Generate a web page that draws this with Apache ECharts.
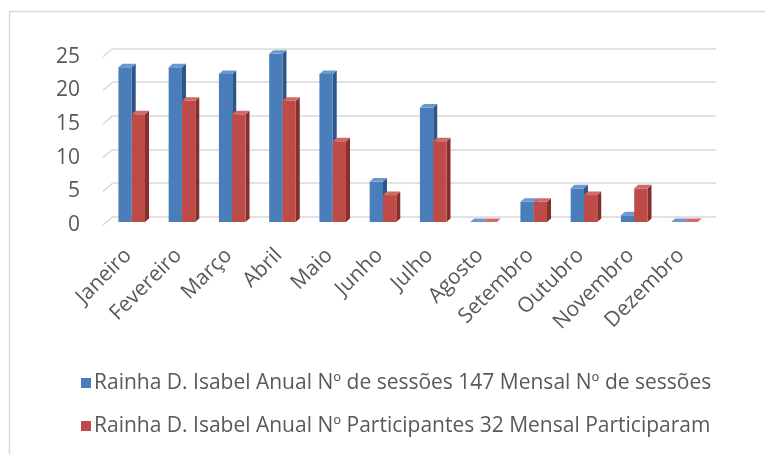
<!DOCTYPE html>
<html>
<head>
<meta charset="utf-8">
<script src="https://cdn.jsdelivr.net/npm/echarts@6/dist/echarts.min.js"></script>
<style>
  html, body { margin: 0; padding: 0; background: #ffffff; }
  #chart { width: 765px; height: 454px; }
</style>
</head>
<body>
<div id="chart"></div>
<script>
// Months on the category axis
const months = ['Janeiro', 'Fevereiro', 'Março', 'Abril', 'Maio', 'Junho',
  'Julho', 'Agosto', 'Setembro', 'Outubro', 'Novembro', 'Dezembro'];

// Monthly values per series
const sessoes = [23, 23, 22, 25, 22, 6, 17, 0, 3, 5, 1, 0];
const participantes = [16, 18, 16, 18, 12, 4, 12, 0, 3, 4, 5, 0];

// Series names shown in the legend
const nomeSessoes = 'Rainha D. Isabel Anual Nº de sessões 147 Mensal Nº de sessões';
const nomeParticipantes = 'Rainha D. Isabel Anual Nº Participantes 32 Mensal Participaram';

// Value axis ticks
const yTicks = [0, 5, 10, 15, 20, 25];

const FONT = '"Open Sans"';
const FONT_SIZE = 21;
const TEXT = '#595959';
const GRID = '#d9d9d9';

// Depth of the floor (front edge to back wall) and of each bar
const FLOOR_DX = 10, FLOOR_DY = 8.4;
const BAR_DX = 4, BAR_DY = 3.5, BAR_W = 13.3;

const palette = [
  { front: '#4a7ebb', side: '#2c5689', top: '#6b98d1' },
  { front: '#be4b48', side: '#86302d', top: '#cf6a67' }
];

function barRenderer(seriesIdx) {
  const c = palette[seriesIdx];
  return function (params, api) {
    const i = api.value(0);
    const v = api.value(1);
    const base = api.coord([i, 0]);
    const tip = api.coord([i, v]);
    const cx = base[0];
    const x0 = seriesIdx === 0 ? cx - BAR_W : cx;
    const x1 = x0 + BAR_W;
    const yb = base[1], yt = tip[1];
    return {
      type: 'group',
      children: [
        { type: 'polygon', shape: { points: [[x1, yt], [x1 + BAR_DX, yt - BAR_DY], [x1 + BAR_DX, yb - BAR_DY], [x1, yb]] },
          style: { fill: c.side } },
        { type: 'rect', shape: { x: x0, y: yt, width: BAR_W, height: yb - yt },
          style: { fill: c.front } },
        { type: 'polygon', shape: { points: [[x0, yt], [x1, yt], [x1 + BAR_DX, yt - BAR_DY], [x0 + BAR_DX, yt - BAR_DY]] },
          style: { fill: c.top } }
      ]
    };
  };
}

// Short slanted lines joining each front tick to its gridline on the back wall
function floorEdge(params, api) {
  const p = api.coord([0, api.value(1)]);
  const x = params.coordSys.x;
  return {
    type: 'line',
    shape: { x1: x, y1: p[1], x2: x + FLOOR_DX, y2: p[1] - FLOOR_DY },
    style: { stroke: GRID, lineWidth: 1.5 }
  };
}

const chart = echarts.init(document.getElementById('chart'), null, { renderer: 'canvas' });

chart.setOption({
  backgroundColor: '#ffffff',
  animation: false,
  textStyle: { fontFamily: FONT, color: TEXT },
  graphic: [{
    type: 'rect', silent: true, z: -10,
    shape: { x: 9.5, y: 11.5, width: 800, height: 500 },
    style: { fill: 'none', stroke: '#d9d9d9', lineWidth: 1.5 }
  }],
  grid: [
    // back wall
    { left: 113, right: 49, top: 48.3, bottom: 237.3 },
    // front edge (labels)
    { left: 103, right: 59, top: 56.7, bottom: 229 },
    // plane of the bars
    { left: 106.6, right: 55.4, top: 53.7, bottom: 232 }
  ],
  xAxis: [
    { gridIndex: 0, type: 'category', data: months, show: false },
    { gridIndex: 1, type: 'category', data: months,
      axisLine: { show: false }, axisTick: { show: false },
      axisLabel: { rotate: 45, interval: 0, margin: 27, fontSize: FONT_SIZE, color: TEXT, fontFamily: FONT } },
    { gridIndex: 2, type: 'category', data: months, show: false }
  ],
  yAxis: [
    { gridIndex: 0, type: 'value', min: 0, max: 25, interval: 5,
      axisLine: { show: false }, axisTick: { show: false }, axisLabel: { show: false },
      splitLine: { lineStyle: { color: GRID, width: 1.5 } } },
    { gridIndex: 1, type: 'value', min: 0, max: 25, interval: 5,
      axisLine: { show: false }, axisTick: { show: false }, splitLine: { show: false },
      axisLabel: { margin: 23, fontSize: FONT_SIZE, color: TEXT, fontFamily: FONT } },
    { gridIndex: 2, type: 'value', min: 0, max: 25, interval: 5, show: false }
  ],
  legend: {
    orient: 'vertical', left: 76, top: 366,
    itemWidth: 10, itemHeight: 10, itemGap: 19,
    icon: 'rect',
    textStyle: { fontSize: FONT_SIZE, lineHeight: 24, color: TEXT, fontFamily: FONT, padding: [0, 0, 0, -2] },
    data: [nomeSessoes, nomeParticipantes]
  },
  series: [
    { type: 'custom', xAxisIndex: 1, yAxisIndex: 1, silent: true,
      data: yTicks.map(t => [0, t]), encode: { x: 0, y: 1 }, renderItem: floorEdge, z: 1 },
    { name: nomeSessoes, type: 'custom', xAxisIndex: 2, yAxisIndex: 2,
      itemStyle: { color: palette[0].front },
      data: sessoes.map((v, i) => [i, v]), encode: { x: 0, y: 1 },
      renderItem: barRenderer(0), z: 2 },
    { name: nomeParticipantes, type: 'custom', xAxisIndex: 2, yAxisIndex: 2,
      itemStyle: { color: palette[1].front },
      data: participantes.map((v, i) => [i, v]), encode: { x: 0, y: 1 },
      renderItem: barRenderer(1), z: 3 }
  ]
});
</script>
</body>
</html>
